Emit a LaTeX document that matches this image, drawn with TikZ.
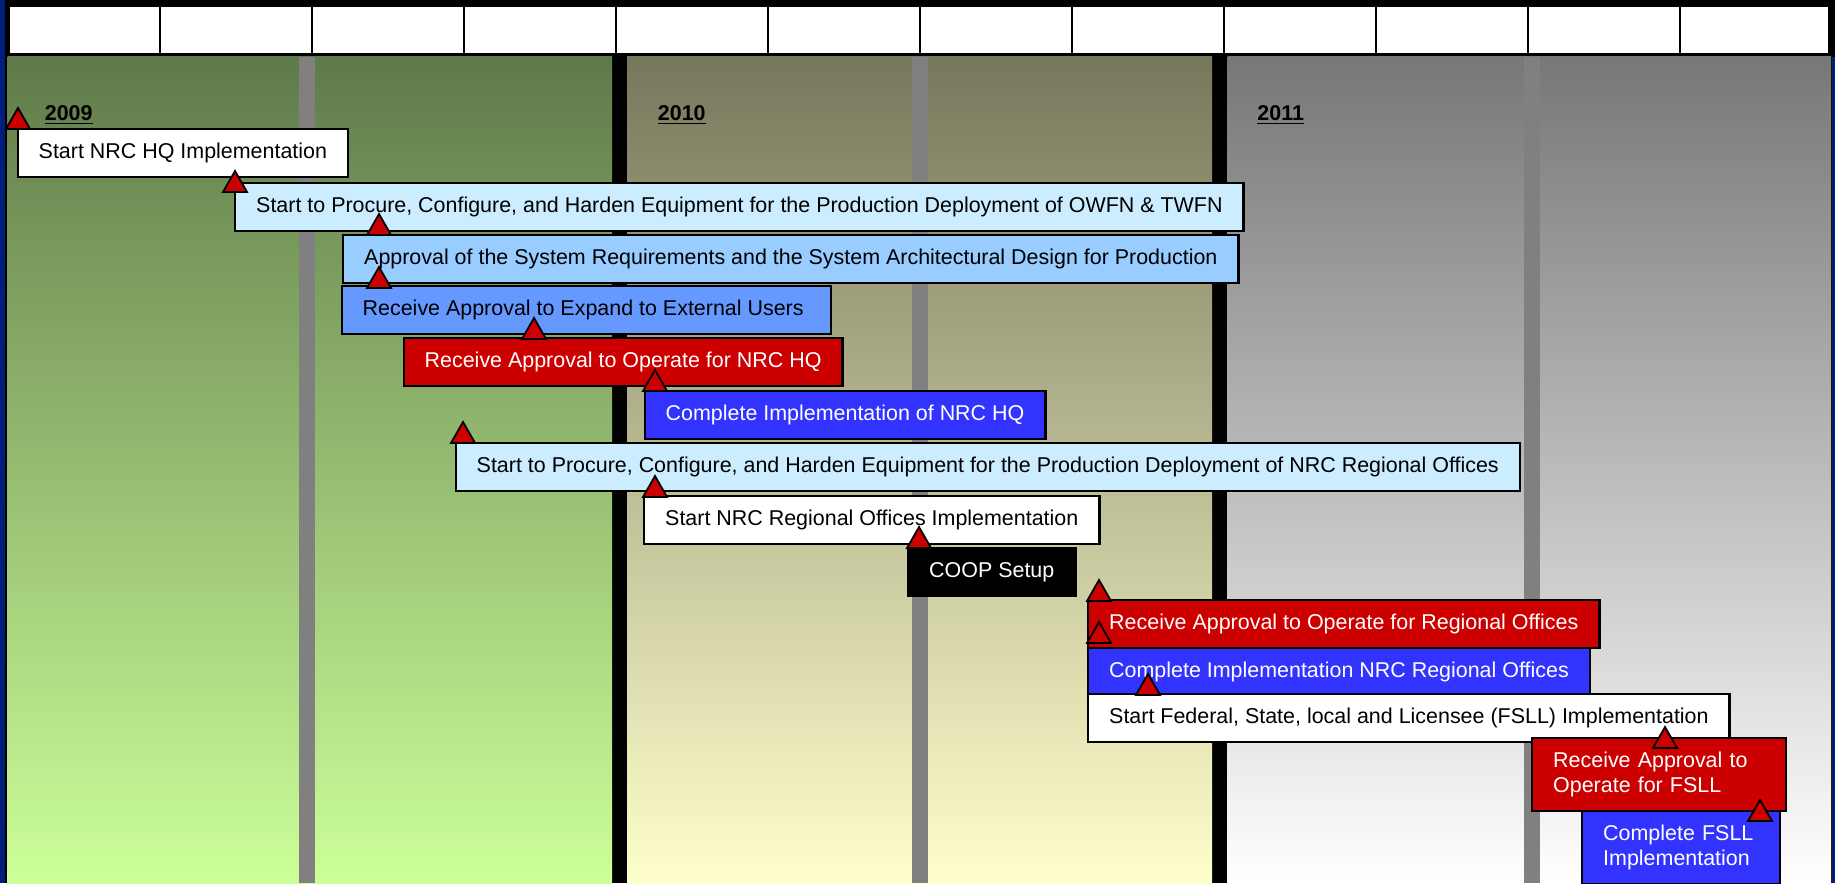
\documentclass[tikz,border=0pt]{standalone}
\usepackage{fontspec}
\setmainfont{Liberation Sans}
\definecolor{navy}{HTML}{001F7C}
\definecolor{msred}{HTML}{CC0000}
\definecolor{pale}{HTML}{CCECFF}
\definecolor{sky}{HTML}{99CCFF}
\definecolor{midblue}{HTML}{6699FF}
\definecolor{deepblue}{HTML}{3333FF}
\definecolor{barg}{HTML}{808080}
\definecolor{gtop}{HTML}{5F7A4A}
\definecolor{gbot}{HTML}{CCFF99}
\definecolor{otop}{HTML}{77775C}
\definecolor{obot}{HTML}{FFFFCC}
\definecolor{ktop}{HTML}{777777}

\begin{document}
\begin{tikzpicture}[x=0.5pt,y=-0.5pt,
  bx/.style={draw=black,line width=1.2pt,anchor=north west,minimum height=24pt,
    inner xsep=10.5pt,inner ysep=0pt,font=\fontsize{10.72}{12.65}\selectfont},
  bxw/.style={bx,fill=white},
  bxp/.style={bx,fill=pale},
  bxs/.style={bx,fill=sky},
  bxm/.style={bx,fill=midblue},
  bxr/.style={bx,fill=msred,text=white},
  bxb/.style={bx,fill=deepblue,text=white},
  bxk/.style={bx,fill=black,text=white},
  ms/.style={draw=black,line width=0.9pt,fill=msred},
  yr/.style={anchor=base west,inner sep=0pt,font=\fontsize{10.72}{12.65}\selectfont\bfseries}]
  \useasboundingbox (0,0) rectangle (1835,883);
  \clip (0,0) rectangle (1835,883);
  % frame and header row
  \fill[navy] (0,0) rectangle (1835,883);
  \fill[black] (5,0) rectangle (1835,57);
  \fill[white] (10,7) rectangle (1828,53);
  \foreach \i in {1,...,11}
    \draw[line width=1pt] (8+152*\i,7) -- (8+152*\i,53);
  % year bands
  \fill[black] (5,57) rectangle (1832,883);
  \shade[top color=gtop,bottom color=gbot] (7.5,57) rectangle (612,883);
  \shade[top color=otop,bottom color=obot] (627,57) rectangle (1212,883);
  \shade[top color=ktop,bottom color=white] (1227.5,57) rectangle (1831,883);
  \foreach \x in {307,920,1532}
    \fill[barg] (\x-8,57) rectangle (\x+8,883);
  \node[yr] (y2009) at (44.5,120) {\underline{2009}};
  \node[yr] (y2010) at (657.5,120) {\underline{2010}};
  \node[yr] (y2011) at (1257,120) {\underline{2011}};
  % tasks
  \node[bxw] (t1) at (16.5,128) {Start NRC HQ Implementation};
  \node[bxp] (t2) at (234,182) {Start to Procure, Configure, and Harden Equipment for the Production Deployment of OWFN \& TWFN};
  \node[bxs] (t3) at (342,234) {Approval of the System Requirements and the System Architectural Design for Production};
  \node[bxm] (t4) at (340.5,285) {\makebox[223.7pt][l]{Receive Approval to Expand to External Users}};
  \node[bxr] (t5) at (402.5,337) {Receive Approval to Operate for NRC HQ};
  \node[bxb] (t6) at (643.5,390) {Complete Implementation of NRC HQ};
  \node[bxp] (t7) at (454.5,442) {Start to Procure, Configure, and Harden Equipment for the Production Deployment of NRC Regional Offices};
  \node[bxw] (t8) at (643,494.5) {Start NRC Regional Offices Implementation};
  \node[bxk] (t9) at (907,547) {COOP Setup};
  \node[bxr] (t10) at (1087,599) {Receive Approval to Operate for Regional Offices};
  \node[bxb] (t11) at (1087,647) {Complete Implementation NRC Regional Offices};
  \node[bxw] (t12) at (1087,693) {Start Federal, State, local and Licensee (FSLL) Implementation};
  \node[bxr,text width=106pt,align=left,minimum height=36.5pt] (t13) at (1531,737) {Receive Approval to\\Operate for FSLL};
  \node[bxb,text width=78pt,align=left,minimum height=36.5pt] (t14) at (1581,810) {Complete FSLL\\Implementation};
  % milestones
  \foreach \x/\y in {18/108,235/171,379/214,379/267,534/318,655/370,463/422,
                     655/476,919/527,1099/580,1099/622,1148/674,1665/727,1760/800}
    \draw[ms] (\x,\y) -- ++(12,21) -- ++(-24,0) -- cycle;
\end{tikzpicture}
\end{document}
